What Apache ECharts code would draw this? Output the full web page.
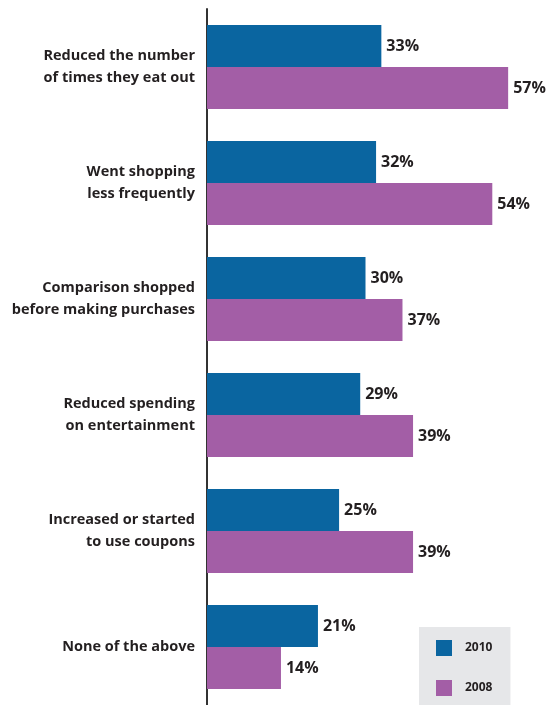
<!DOCTYPE html>
<html>
<head>
<meta charset="utf-8">
<script src="https://cdn.jsdelivr.net/npm/echarts@6/dist/echarts.min.js"></script>
<style>
  html, body { margin: 0; padding: 0; background: #fff; }
  #chart { width: 548px; height: 705px; }
</style>
</head>
<body>
<div id="chart"></div>
<script>
// Cost-cutting behaviours, share of respondents (%)
const categories = [
  'Reduced the number\nof times they eat out',
  'Went shopping\nless frequently',
  'Comparison shopped\nbefore making purchases',
  'Reduced spending\non entertainment',
  'Increased or started\nto use coupons',
  'None of the above'
];
const values2010 = [33, 32, 30, 29, 25, 21];
const values2008 = [57, 54, 37, 39, 39, 14];
const seriesNames = ['2010', '2008'];

const FONT = '"Open Sans", "Liberation Sans", sans-serif';
const TEXT = '#231f20';

const valueLabel = {
  show: true,
  position: 'right',
  distance: 5,
  formatter: '{c}%',
  color: TEXT,
  fontFamily: FONT,
  fontWeight: 'bold',
  fontSize: 16
};

const chart = echarts.init(document.getElementById('chart'), null, { renderer: 'canvas' });
chart.setOption({
  animation: false,
  backgroundColor: '#ffffff',
  grid: {
    left: 207, right: 24, top: 9, bottom: 0,
    containLabel: false,
    outerBoundsMode: 'none'
  },
  legend: {
    orient: 'vertical',
    left: 419,
    top: 627,
    data: seriesNames,
    backgroundColor: '#e6e7e9',
    padding: [13, 18, 9, 17],
    itemWidth: 16,
    itemHeight: 16,
    itemGap: 24,
    icon: 'rect',
    textStyle: { color: TEXT, fontFamily: FONT, fontWeight: 'bold', fontSize: 12, padding: [0, 0, 0, 8] }
  },
  xAxis: {
    type: 'value',
    min: 0,
    max: 60,
    show: false
  },
  yAxis: {
    type: 'category',
    data: categories,
    inverse: true,
    axisLine: { show: true, lineStyle: { color: '#333333', width: 2 } },
    axisTick: { show: false },
    axisLabel: {
      margin: 12,
      align: 'right',
      color: TEXT,
      fontFamily: FONT,
      fontWeight: 'bold',
      fontSize: 14.5,
      lineHeight: 22
    }
  },
  series: [
    {
      name: seriesNames[0],
      type: 'bar',
      data: values2010,
      barWidth: 42,
      barGap: '0%',
      itemStyle: { color: '#0a65a0' },
      label: valueLabel
    },
    {
      name: seriesNames[1],
      type: 'bar',
      data: values2008,
      barWidth: 42,
      barGap: '0%',
      itemStyle: { color: '#a35ea6' },
      label: valueLabel
    }
  ]
});
</script>
</body>
</html>
